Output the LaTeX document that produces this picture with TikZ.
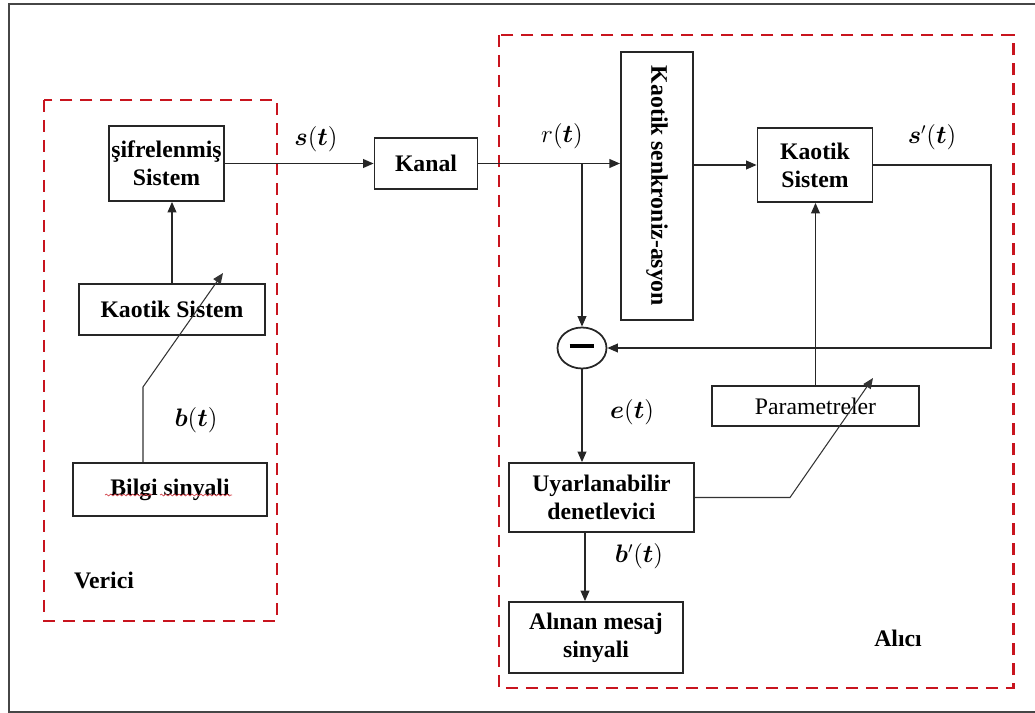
\documentclass[tikz,border=0pt]{standalone}
\usepackage{fontspec}
\setmainfont{Liberation Serif}
\usepackage{amsmath,bm}
\usepackage{graphicx}
\usetikzlibrary{arrows.meta,shapes.geometric,decorations.pathmorphing}
\definecolor{dred}{RGB}{200,20,30}
\definecolor{frame}{RGB}{70,70,70}
\begin{document}
\begin{tikzpicture}[x=0.02cm,y=-0.02cm,
  blk/.style={draw=black!85, line width=1pt, align=center, inner sep=0pt,
    font=\fontsize{13.5}{16}\selectfont\bfseries},
  plainblk/.style={blk, font=\fontsize{13.5}{16}\selectfont},
  lbl/.style={inner sep=0pt, font=\fontsize{13.5}{16}\selectfont},
  grp/.style={draw=dred, line width=1.7pt, dash pattern=on 0.24cm off 0.16cm},
  conn/.style={draw=black!85, line width=0.8pt, -{Triangle[length=6pt,width=5pt]}},
  thinconn/.style={draw=black!80, line width=0.6pt, -{Triangle[length=6pt,width=5pt]}},
  squig/.style={draw=dred!80, line width=0.4pt, decorate,
    decoration={snake, amplitude=0.5pt, segment length=2.5pt}}
]
\useasboundingbox (0,0) rectangle (1035,713);
% outer frame
\draw[frame, line width=1pt] (1035,4) -- (9,4) -- (9,712) -- (1035,712);

% group boxes
\draw[grp] (44,100) rectangle (277,621);
\draw[grp] (499,35) rectangle (1013,688);

% transmitter blocks
\node[blk, minimum width=2.30cm, minimum height=1.50cm] (sif) at (166.5,163.5) {şifrelenmiş\\Sistem};
\node[blk, minimum width=3.72cm, minimum height=1.02cm] (kaoL) at (172,309.5) {Kaotik Sistem};
\node[blk, minimum width=3.88cm, minimum height=1.06cm] (bilgi) at (170,489.5) {Bilgi sinyali};
\node[blk, minimum width=2.06cm, minimum height=1.02cm] (kanal) at (426,163.5) {Kanal};

% receiver blocks
\node[blk, line width=1.2pt, minimum width=1.44cm, minimum height=5.36cm] (senk) at (657,186) {\rotatebox{-90}{Kaotik senkroniz-asyon}};
\node[blk, minimum width=2.30cm, minimum height=1.48cm] (kaoR) at (815,165) {Kaotik\\Sistem};
\node[draw=black!85, line width=1pt, ellipse, inner sep=0pt, minimum width=0.98cm, minimum height=0.82cm] (minus) at (582,348) {\rule[2pt]{14pt}{2pt}};
\node[plainblk, minimum width=4.14cm, minimum height=0.80cm] (param) at (815.5,406) {Parametreler};
\node[blk, minimum width=3.70cm, minimum height=1.38cm] (uyar) at (601.5,497.5) {Uyarlanabilir\\denetlevici};
\node[blk, minimum width=3.48cm, minimum height=1.42cm] (alinan) at (596,637.5) {Alınan mesaj\\sinyali};

% spell-check underline
\coordinate (sq1a) at (105,495); \coordinate (sq1b) at (152,495);
\coordinate (sq2a) at (160,495); \coordinate (sq2b) at (232,495);
\draw[squig] (sq1a) -- (sq1b);
\draw[squig] (sq2a) -- (sq2b);

% helper coordinates
\coordinate (bk) at (143,387);
\coordinate (bt) at (223,273);
\coordinate (br) at (582,163.5);
\coordinate (fb) at (991,0);
\coordinate (xb) at (585,0);
\coordinate (uk) at (790,497.5);
\coordinate (ut) at (873,378);

% connectors
\draw[conn] (sif.east) -- (kanal.west);
\draw[conn] (kaoL.north) -- (kaoL.north |- sif.south);
\draw[thinconn] (bilgi.north -| bk) -- (bk) -- (bt);
\draw[conn] (kanal.east) -- (kanal.east -| senk.west);
\draw[conn] (br) -- (minus.north);
\draw[conn] (senk.east |- kaoR) -- (kaoR.west);
\draw[conn] (kaoR.east) -| (fb |- minus) -- (minus.east);
\draw[conn] (param.north) -- (param.north |- kaoR.south);
\draw[conn] (minus.south) -- (minus.south |- uyar.north);
\draw[conn] (uyar.south -| xb) -- (alinan.north -| xb);
\draw[thinconn] (uyar.east) -- (uk) -- (ut);

% labels
\node[lbl] (ls) at (316,139) {$\boldsymbol{s}(\boldsymbol{t})$};
\node[lbl] (lr) at (562,136) {$r(\boldsymbol{t})$};
\node[lbl] (lsp) at (932,137) {$\boldsymbol{s}'(\boldsymbol{t})$};
\node[lbl] (lb) at (196,420) {$\boldsymbol{b}(\boldsymbol{t})$};
\node[lbl] (le) at (632,412) {$\boldsymbol{e}(\boldsymbol{t})$};
\node[lbl] (lbp) at (639,556) {$\boldsymbol{b}'(\boldsymbol{t})$};
\node[lbl, font=\fontsize{13.5}{16}\selectfont\bfseries] (verici) at (104,580) {Verici};
\node[lbl, font=\fontsize{13.5}{16}\selectfont\bfseries] (alici) at (898,638) {Alıcı};
\end{tikzpicture}
\end{document}
